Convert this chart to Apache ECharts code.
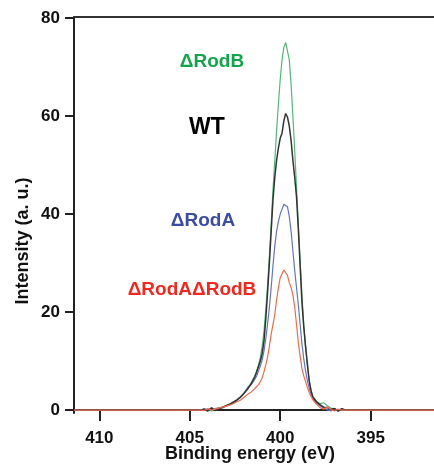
<!DOCTYPE html>
<html>
<head>
<meta charset="utf-8">
<script src="https://cdn.jsdelivr.net/npm/echarts@6/dist/echarts.min.js"></script>
<style>html,body{margin:0;padding:0;background:#fff;overflow:hidden}#c{width:434px;height:465px}</style>
</head>
<body>
<div id="c"></div>
<script>
// Binding energy (eV)
var energy = [411.4, 404.4, 404.2, 404.0, 403.8, 403.6, 403.4, 403.2, 403.0, 402.8, 402.6, 402.4, 402.2, 402.0, 401.8, 401.6, 401.4, 401.3, 401.2, 401.1, 401.0, 400.9, 400.8, 400.7, 400.6, 400.5, 400.4, 400.3, 400.2, 400.1, 400.0, 399.9, 399.8, 399.7, 399.6, 399.5, 399.4, 399.3, 399.2, 399.1, 399.0, 398.9, 398.8, 398.7, 398.6, 398.5, 398.4, 398.3, 398.2, 398.0, 397.8, 397.6, 397.4, 397.2, 397.0, 396.8, 396.6, 396.4, 391.5];
var rodB = [0, 0, 0.2, 0.1, -0.2, 0.3, 0.5, 0.4, 0.8, 1.1, 1.5, 2.0, 2.7, 3.5, 4.5, 5.6, 7.0, 8.0, 9.2, 10.8, 13.0, 16.0, 20.5, 25.5, 31.5, 38.0, 45.0, 51.0, 57.0, 62.5, 67.5, 71.5, 74.0, 75.0, 74.8, 71.5, 66.5, 60.0, 53.0, 45.5, 38.0, 30.5, 23.5, 17.5, 13.0, 9.0, 6.0, 4.0, 2.8, 1.8, 1.3, 1.5, 0.9, 0.4, 0.2, 0.0, 0.1, 0, 0];
var wt = [0, 0, 0.1, -0.2, 0.4, -0.1, 0.2, 0.6, 0.9, 1.2, 1.6, 2.0, 2.6, 3.4, 4.3, 5.4, 6.8, 7.8, 8.9, 10.0, 11.5, 14.0, 18.5, 24.0, 30.0, 36.5, 43.0, 47.5, 51.0, 53.5, 55.5, 56.5, 59.0, 60.5, 59.8, 58.0, 55.0, 51.0, 47.5, 43.5, 37.0, 29.5, 22.0, 17.0, 13.0, 9.5, 6.0, 4.0, 2.7, 1.7, 1.1, 0.6, 0.5, 0.1, 0.3, -0.2, 0.3, 0, 0];
var rodA = [0, 0, 0.3, -0.1, 0.5, 0.1, 0.3, 0.5, 0.8, 1.1, 1.6, 2.1, 2.7, 3.4, 4.6, 5.2, 6.3, 7.0, 8.0, 9.0, 10.2, 12.0, 14.5, 17.5, 21.0, 25.0, 29.5, 33.5, 36.5, 38.5, 40.0, 41.0, 42.0, 42.3, 41.5, 39.5, 36.5, 32.5, 28.5, 25.0, 21.5, 17.5, 13.5, 10.5, 8.0, 6.0, 4.5, 3.3, 2.4, 1.4, 0.9, 0.4, 0.1, -0.2, 0.3, -0.1, 0.2, 0, 0];
var rodARodB = [0, 0, -0.1, 0.3, 0.0, 0.2, 0.4, 0.6, 0.8, 1.0, 1.3, 1.7, 2.0, 2.6, 3.2, 3.7, 4.4, 4.8, 5.2, 5.8, 6.6, 7.8, 9.2, 10.8, 13.0, 15.5, 17.5, 19.5, 22.5, 25.0, 27.0, 27.8, 28.6, 28.4, 27.5, 26.0, 25.0, 23.5, 21.0, 17.5, 13.8, 11.0, 8.5, 7.0, 5.8, 4.6, 3.6, 2.8, 2.1, 1.2, 0.5, 0.2, 0.6, 0.1, -0.2, 0.2, 0.0, 0, 0];
var xTicks = [395, 400, 405, 410];
var yTicks = [0, 20, 40, 60, 80];
var seriesNames = ['ΔRodB', 'ΔRodA', 'WT', 'ΔRodAΔRodB'];

function pairs(ys) { return energy.map(function (e, i) { return [e, ys[i]]; }); }

var chart = echarts.init(document.getElementById('c'), null, { renderer: 'canvas', width: 434, height: 465 });
var tickFont = { fontFamily: 'Liberation Sans, Arial, sans-serif', fontWeight: 'bold', fontSize: 17, color: '#111' };
var axisLine = { show: true, lineStyle: { color: '#222', width: 2 } };

function line(name, data, color, width) {
  return { name: name, type: 'line', data: pairs(data), showSymbol: false, symbol: 'none',
    lineStyle: { color: color, width: width }, itemStyle: { color: color }, animation: false, clip: true };
}

chart.setOption({
  animation: false,
  backgroundColor: '#fff',
  grid: { left: 74, right: 0, top: 17, bottom: 52, containLabel: false, outerBoundsMode: 'none' },
  xAxis: [{
    type: 'value', inverse: true, min: 391.5, max: 411.4, position: 'bottom',
    axisLine: axisLine,
    axisTick: { show: true, length: 11, lineStyle: { color: '#222', width: 2 }, customValues: xTicks },
    axisLabel: Object.assign({ margin: 17, customValues: xTicks }, tickFont),
    splitLine: { show: false },
    name: 'Binding energy (eV)', nameLocation: 'middle', nameGap: 32, nameMoveOverlap: false,
    nameTextStyle: { fontFamily: 'Liberation Sans, Arial, sans-serif', fontWeight: 'bold', fontSize: 18, color: '#111', padding: [0, 8, 0, 0] }
  }, {
    type: 'value', inverse: true, min: 391.5, max: 411.4, position: 'top',
    axisLine: { show: true, lineStyle: { color: '#333', width: 2 } },
    axisTick: { show: false }, axisLabel: { show: false }, splitLine: { show: false }
  }],
  yAxis: {
    type: 'value', min: -0.6, max: 80.2,
    axisLine: axisLine,
    axisTick: { show: true, length: 9, lineStyle: { color: '#222', width: 2 }, customValues: yTicks },
    axisLabel: Object.assign({ margin: 14, customValues: yTicks }, tickFont),
    splitLine: { show: false }
  },
  graphic: [
    { type: 'text', x: 23, y: 241, rotation: Math.PI / 2,
      style: { text: 'Intensity (a. u.)', fill: '#111', font: 'bold 18px "Liberation Sans", Arial, sans-serif', textAlign: 'center', textVerticalAlign: 'middle' } },
    { type: 'text', x: 212, y: 62, style: { text: seriesNames[0], fill: '#14a54c', font: 'bold 19px "Liberation Sans", Arial, sans-serif', textAlign: 'center', textVerticalAlign: 'middle' } },
    { type: 'text', x: 207, y: 128, style: { text: seriesNames[2], fill: '#000', font: 'bold 23px "Liberation Sans", Arial, sans-serif', textAlign: 'center', textVerticalAlign: 'middle' } },
    { type: 'text', x: 203, y: 221, style: { text: seriesNames[1], fill: '#3a4ca6', font: 'bold 19px "Liberation Sans", Arial, sans-serif', textAlign: 'center', textVerticalAlign: 'middle' } },
    { type: 'text', x: 192, y: 290, style: { text: seriesNames[3], fill: '#f0281e', font: 'bold 19px "Liberation Sans", Arial, sans-serif', textAlign: 'center', textVerticalAlign: 'middle' } }
  ],
  series: [
    line(seriesNames[0], rodB, '#52b878', 1.2),
    line(seriesNames[1], rodA, '#6473c4', 1.2),
    line(seriesNames[2], wt, '#333333', 1.5),
    line(seriesNames[3], rodARodB, '#f26a4a', 1.2)
  ]
});
</script>
</body>
</html>
